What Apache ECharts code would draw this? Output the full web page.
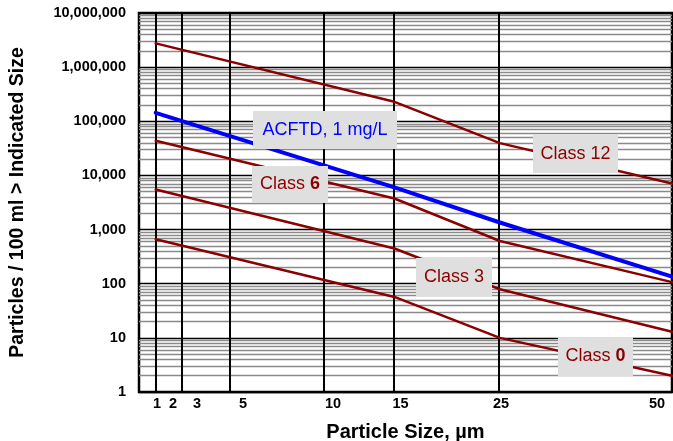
<!DOCTYPE html>
<html><head><meta charset="utf-8">
<script src="https://cdn.jsdelivr.net/npm/echarts@6/dist/echarts.min.js"></script>
<style>html,body{margin:0;padding:0;background:#fff}#c{width:673px;height:441px}</style>
</head><body><div id="c"></div>
<script>
// Particle sizes (µm) where each curve has a vertex
const sizes = [2, 15, 25, 50];
// Cumulative counts per 100 ml greater than the indicated size
const class12 = [2750000, 229000, 39500, 7100];
const acftd   = [143000, 6000, 1350, 135];
const class6  = [43600, 3750, 615, 107];
const class3  = [5500, 447, 79, 13];
const class0  = [665, 57, 10, 2.0];
// Axis tick labels and grid values
const xTickLabels = [1, 2, 3, 5, 10, 15, 25, 50];
const xGridSizes = [2, 3, 5, 10, 15, 25];
const yMinorMultipliers = [2, 3, 4, 5, 6, 7, 8, 9];
const yDecades = [1, 10, 100, 1000, 10000, 100000, 1000000, 10000000];

// Particle-size axis scale: (log10 d)^2
const t = d => Math.pow(Math.log10(d), 2);
const FONT = '"Liberation Sans", Arial, Helvetica, sans-serif';
const RED = '#8B0000';

const yMinor = [];
yDecades.slice(0, -1).forEach(dec => yMinorMultipliers.forEach(m => yMinor.push(m * dec)));

function lineSeries(name, vals, color, width) {
  return {
    name, type: 'line', xAxisIndex: 0, yAxisIndex: 0, z: 5,
    data: sizes.map((s, i) => [t(s), vals[i]]),
    symbol: 'none', showSymbol: false, silent: true,
    lineStyle: { color, width, cap: 'round', join: 'round' },
    animation: false
  };
}

const chart = echarts.init(document.getElementById('c'), null, { renderer: 'canvas' });

function box(x, y, w, h, text, color, rich) {
  return {
    type: 'group', z: 100,
    children: [
      { type: 'rect', shape: { x, y, width: w, height: h }, style: { fill: '#dfdfdf' }, z: 100 },
      { type: 'text', z: 101, x: x + w / 2, y: y + h / 2,
        style: { text, fill: color, font: '18px ' + FONT, align: 'center', verticalAlign: 'middle',
          rich: rich || {} } }
    ]
  };
}
const boldRich = { b: { fontWeight: 'bold', fontSize: 18, fontFamily: FONT, fill: RED } };

chart.setOption({
  animation: false,
  backgroundColor: '#fff',
  grid: { left: 139, right: 1, top: 13, bottom: 49, show: true, borderColor: '#000', borderWidth: 2.5,
    backgroundColor: '#fff', containLabel: false, outerBoundsMode: 'none' },
  xAxis: [
    { type: 'value', min: 0, max: t(50), show: true,
      axisLine: { show: false }, axisTick: { show: false }, axisLabel: { show: false }, splitLine: { show: false } },
    { type: 'value', position: 'bottom', min: -18 / 176, max: 515 / 176,
      axisLine: { show: false }, axisTick: { show: false }, splitLine: { show: false },
      name: 'Particle Size, µm', nameLocation: 'middle', nameGap: 30,
      nameTextStyle: { fontSize: 20, fontWeight: 'bold', color: '#000', fontFamily: FONT },
      axisLabel: {
        customValues: xTickLabels.map(t),
        formatter: v => String(Math.round(Math.pow(10, Math.sqrt(Math.max(v, 0))))),
        fontSize: 14.5, fontWeight: 'bold', color: '#000', fontFamily: FONT, margin: 4,
        alignMaxLabel: 'right'
      } }
  ],
  yAxis: {
    type: 'log', logBase: 10, min: 1, max: 10000000, splitNumber: 7,
    axisLine: { show: false }, axisTick: { show: false },
    splitLine: { show: true, lineStyle: { color: '#000', width: 1.3 } },
    axisLabel: { fontSize: 14.5, fontWeight: 'bold', color: '#000', fontFamily: FONT, margin: 13,
      formatter: v => Number(v).toLocaleString('en-US') },
    name: 'Particles / 100 ml > Indicated Size', nameLocation: 'middle', nameGap: 111,
    nameTextStyle: { fontSize: 19.5, fontWeight: 'bold', color: '#000', fontFamily: FONT }
  },
  series: [
    { type: 'line', data: [], z: 1, silent: true,
      markLine: { silent: true, symbol: ['none', 'none'], label: { show: false }, animation: false,
        data: yMinor.map(v => ({ yAxis: v, lineStyle: { color: '#8a8a8a', width: 1.4, type: 'solid' } }))
          .concat(xGridSizes.map(d => ({ xAxis: t(d), lineStyle: { color: '#000', width: 2, type: 'solid' } }))) } },
    lineSeries('Class 12', class12, RED, 2.5),
    lineSeries('Class 6', class6, RED, 2.5),
    lineSeries('Class 3', class3, RED, 2.5),
    lineSeries('Class 0', class0, RED, 2.5),
    lineSeries('ACFTD, 1 mg/L', acftd, '#0000FF', 4)
  ],
  graphic: [
    box(253, 111, 144, 38, 'ACFTD, 1 mg/L', '#0000FF'),
    box(252, 166, 76, 37, 'Class {b|6}', RED, boldRich),
    box(533, 135, 85, 38, 'Class 12', RED),
    box(416, 258, 76, 38, 'Class 3', RED),
    box(558, 337, 75, 39, 'Class {b|0}', RED, boldRich)
  ]
});
</script></body></html>
